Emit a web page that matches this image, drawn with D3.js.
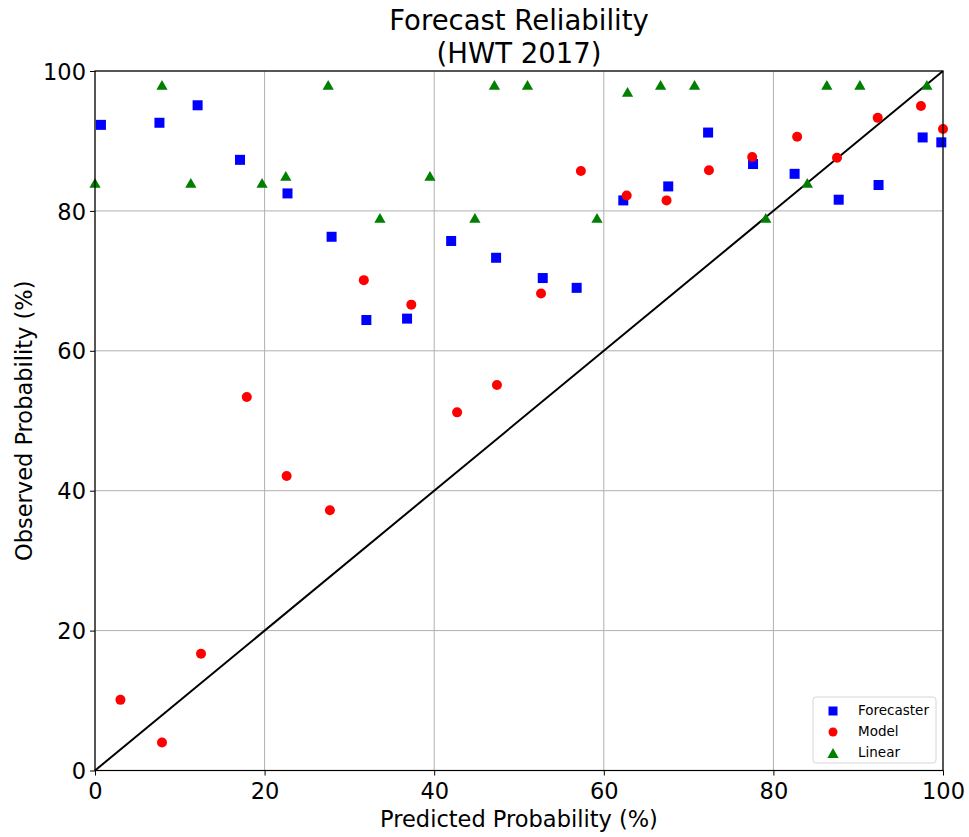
<!DOCTYPE html>
<html>
<head>
<meta charset="utf-8">
<script src="https://cdn.jsdelivr.net/npm/d3@7"></script>
<style>
    body { margin: 0; background: #fff; }
    svg text { font-family: "DejaVu Sans", sans-serif; fill: #000; }
</style>
</head>
<body>
<svg id="chart" width="969" height="837"></svg>
<script>
// 資料
const forecasterX = [0.7, 7.6, 12.1, 17.1, 22.7, 27.9, 32.0, 36.8, 42.0, 47.3, 52.8, 56.8, 62.3, 67.6, 72.3, 77.6, 82.5, 87.7, 92.4, 97.6, 99.8];
const forecasterY = [92.3, 92.6, 95.1, 87.3, 82.5, 76.3, 64.4, 64.6, 75.7, 73.3, 70.4, 69.0, 81.5, 83.5, 91.2, 86.7, 85.3, 81.6, 83.7, 90.5, 89.8];

const modelX = [3.0, 7.9, 12.5, 17.9, 22.6, 27.7, 31.7, 37.3, 42.7, 47.4, 52.6, 57.3, 62.7, 67.4, 72.4, 77.5, 82.8, 87.5, 92.3, 97.4, 100];
const modelY = [10.1, 4.0, 16.7, 53.4, 42.1, 37.2, 70.1, 66.6, 51.2, 55.1, 68.2, 85.7, 82.2, 81.5, 85.8, 87.7, 90.6, 87.6, 93.3, 95.0, 91.7];

const linearX = [0.0, 7.9, 11.3, 19.7, 22.5, 27.5, 33.6, 39.5, 44.8, 47.1, 51.0, 59.2, 62.8, 66.7, 70.7, 79.1, 84.0, 86.3, 90.2, 98.1];
const linearY = [84, 98, 84, 84, 85, 98, 79, 85, 79, 98, 98, 79, 97, 98, 98, 79, 84, 98, 98, 98];

const tickValues = [0, 20, 40, 60, 80, 100];
const diagonal = [0, 100];

const svg = d3.select("#chart");
const margin = { top: 71, right: 26, bottom: 66.5, left: 95 };
const width = 969 - margin.left - margin.right;
const height = 837 - margin.top - margin.bottom;

const x = d3.scaleLinear().domain([0, 100]).range([0, width]);
const y = d3.scaleLinear().domain([0, 100]).range([height, 0]);

const chart = svg.append("g")
    .attr("transform", `translate(${margin.left},${margin.top})`);

// 格線
chart.append("g")
    .selectAll("line.vgrid")
    .data(tickValues)
    .enter()
    .append("line")
    .attr("x1", d => x(d)).attr("x2", d => x(d))
    .attr("y1", 0).attr("y2", height)
    .attr("stroke", "#b0b0b0")
    .attr("stroke-width", 1);

chart.append("g")
    .selectAll("line.hgrid")
    .data(tickValues)
    .enter()
    .append("line")
    .attr("y1", d => y(d)).attr("y2", d => y(d))
    .attr("x1", 0).attr("x2", width)
    .attr("stroke", "#b0b0b0")
    .attr("stroke-width", 1);

// 對角線
chart.append("line")
    .attr("x1", x(diagonal[0])).attr("y1", y(diagonal[0]))
    .attr("x2", x(diagonal[1])).attr("y2", y(diagonal[1]))
    .attr("stroke", "#000")
    .attr("stroke-width", 2);

// 散佈點
const zip = (xs, ys) => xs.map((v, i) => ({ x: v, y: ys[i] }));

chart.append("g")
    .selectAll("rect")
    .data(zip(forecasterX, forecasterY))
    .enter()
    .append("rect")
    .attr("x", d => x(d.x) - 5)
    .attr("y", d => y(d.y) - 5)
    .attr("width", 10)
    .attr("height", 10)
    .attr("fill", "#0000ff");

chart.append("g")
    .selectAll("circle")
    .data(zip(modelX, modelY))
    .enter()
    .append("circle")
    .attr("cx", d => x(d.x))
    .attr("cy", d => y(d.y))
    .attr("r", 5)
    .attr("fill", "#ff0000");

// 三角形以外框中心對齊（同 matplotlib）
const tri = d3.symbol().type(d3.symbolTriangle).size(55);
const triShift = Math.sqrt(55 / (3 * Math.sqrt(3))) / 2;
chart.append("g")
    .selectAll("path")
    .data(zip(linearX, linearY))
    .enter()
    .append("path")
    .attr("d", tri)
    .attr("transform", d => `translate(${x(d.x)},${y(d.y) + triShift})`)
    .attr("fill", "#008000");

// 外框
chart.append("rect")
    .attr("width", width)
    .attr("height", height)
    .attr("fill", "none")
    .attr("stroke", "#000")
    .attr("stroke-width", 1.2);

// 座標軸
const xAxis = chart.append("g")
    .attr("transform", `translate(0,${height})`)
    .call(d3.axisBottom(x).tickValues(tickValues).tickSize(5).tickPadding(4));
const yAxis = chart.append("g")
    .call(d3.axisLeft(y).tickValues(tickValues).tickSize(5).tickPadding(4));

[xAxis, yAxis].forEach(a => {
    a.select(".domain").remove();
    a.selectAll("text")
        .attr("font-size", "22.5px")
        .attr("font-family", "DejaVu Sans, sans-serif")
        .attr("fill", "#000");
    a.selectAll("line").attr("stroke", "#000");
});
xAxis.selectAll("text").attr("dy", "0.86em");
yAxis.selectAll("text").attr("dy", "0.36em");

// 標題與軸標籤
svg.append("text")
    .attr("x", margin.left + width / 2)
    .attr("y", 30)
    .attr("text-anchor", "middle")
    .attr("font-size", "27.5px")
    .text("Forecast Reliability");
svg.append("text")
    .attr("x", margin.left + width / 2)
    .attr("y", 63)
    .attr("text-anchor", "middle")
    .attr("font-size", "27.5px")
    .text("(HWT 2017)");

svg.append("text")
    .attr("x", margin.left + width / 2)
    .attr("y", 827)
    .attr("text-anchor", "middle")
    .attr("font-size", "22.5px")
    .text("Predicted Probability (%)");

svg.append("text")
    .attr("transform", `translate(32,${margin.top + height / 2}) rotate(-90)`)
    .attr("text-anchor", "middle")
    .attr("font-size", "22.5px")
    .text("Observed Probability (%)");

// 圖例
const legendItems = [
    { label: "Forecaster", type: "square", color: "#0000ff" },
    { label: "Model", type: "circle", color: "#ff0000" },
    { label: "Linear", type: "triangle", color: "#008000" }
];
const legend = svg.append("g").attr("transform", "translate(813,697)");
legend.append("rect")
    .attr("width", 123)
    .attr("height", 66)
    .attr("rx", 3)
    .attr("fill", "#fff")
    .attr("fill-opacity", 0.8)
    .attr("stroke", "#d6d6d6");

legendItems.forEach((item, i) => {
    const cy = 13 + i * 21;
    const cx = 20;
    if (item.type === "square") {
        legend.append("rect").attr("x", cx - 4.5).attr("y", cy - 3.5).attr("width", 9).attr("height", 9).attr("fill", item.color);
    } else if (item.type === "circle") {
        legend.append("circle").attr("cx", cx).attr("cy", cy + 1).attr("r", 4.5).attr("fill", item.color);
    } else {
        legend.append("path").attr("d", tri).attr("transform", `translate(${cx},${cy + 1 + triShift})`).attr("fill", item.color);
    }
    legend.append("text")
        .attr("x", 45)
        .attr("y", cy + 5)
        .attr("font-size", "13.5px")
        .text(item.label);
});
</script>
</body>
</html>
